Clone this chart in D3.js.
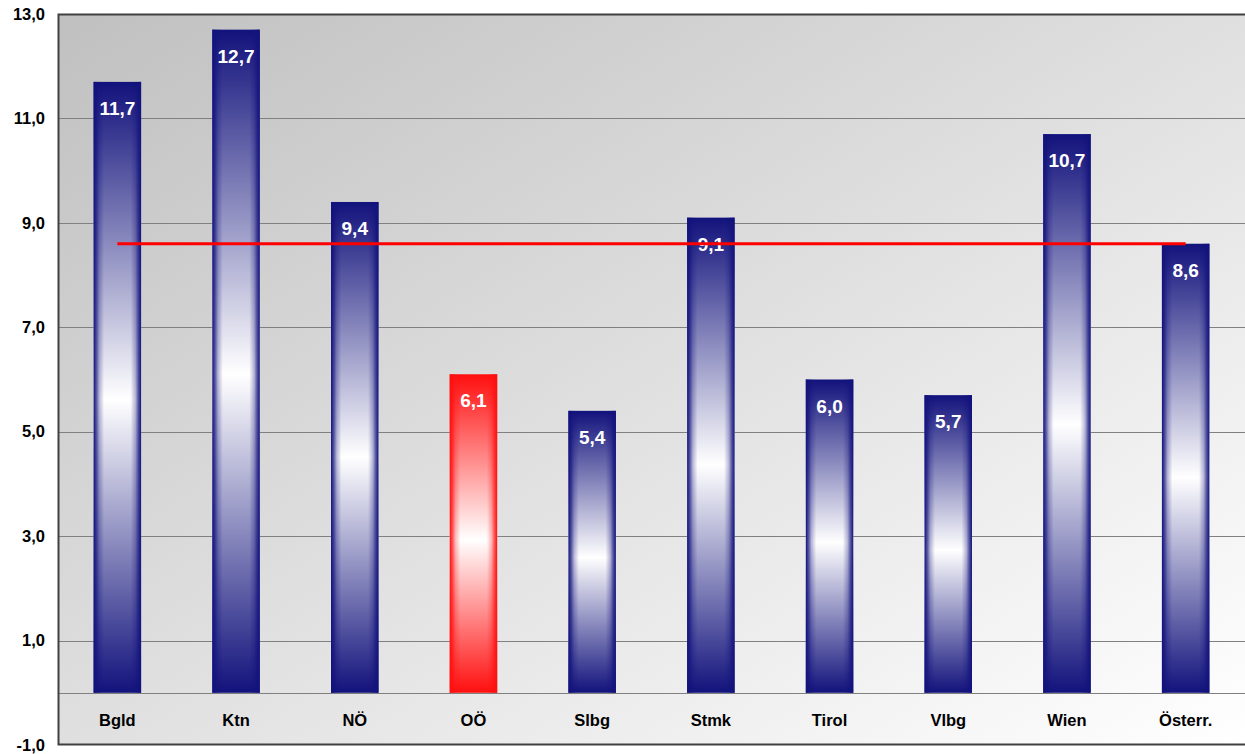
<!DOCTYPE html>
<html>
<head>
<meta charset="utf-8">
<script src="https://cdn.jsdelivr.net/npm/d3@7"></script>
<style>
  body { margin: 0; background: #fff; }
  svg text { font-family: "Liberation Sans", Arial, sans-serif; font-weight: bold; }
</style>
</head>
<body>
<div id="chart"></div>
<script>
// Data.
var categories = ['Bgld', 'Ktn', 'NÖ', 'OÖ', 'Slbg', 'Stmk', 'Tirol', 'Vlbg', 'Wien', 'Österr.'];
var values = [11.7, 12.7, 9.4, 6.1, 5.4, 9.1, 6.0, 5.7, 10.7, 8.6];
var lineValues = [8.6, 8.6, 8.6, 8.6, 8.6, 8.6, 8.6, 8.6, 8.6, 8.6];
var highlight = ['OÖ'];
var yTicks = [-1, 1, 3, 5, 7, 9, 11, 13];

var W = 1245, H = 754;
var margin = { top: 14, right: 0, bottom: 9, left: 58 };
var width = W - margin.left - margin.right;
var height = H - margin.top - margin.bottom;

var fmt = function(d) { return d3.format('.1f')(d).replace('.', ',').replace('\u2212', '-'); };

var svg = d3.select('#chart').append('svg')
  .attr('width', W)
  .attr('height', H);

var defs = svg.append('defs');

// Plot background, grey top-left to white bottom-right.
var bg = defs.append('linearGradient').attr('id', 'bg')
  .attr('x1', '0%').attr('y1', '0%').attr('x2', '100%').attr('y2', '100%');
bg.append('stop').attr('offset', '0%').attr('stop-color', '#c0c0c0');
bg.append('stop').attr('offset', '100%').attr('stop-color', '#ffffff');

// Bar fills: vertical dark-white-dark plus darker side edges.
function barGradient(id, col) {
  var v = defs.append('linearGradient').attr('id', id + 'V')
    .attr('x1', 0).attr('y1', 0).attr('x2', 0).attr('y2', 1);
  v.append('stop').attr('offset', '0%').attr('stop-color', col);
  v.append('stop').attr('offset', '52%').attr('stop-color', '#ffffff');
  v.append('stop').attr('offset', '100%').attr('stop-color', col);

  var h = defs.append('linearGradient').attr('id', id + 'H')
    .attr('x1', 0).attr('y1', 0).attr('x2', 1).attr('y2', 0);
  h.append('stop').attr('offset', '0%').attr('stop-color', col).attr('stop-opacity', 1);
  h.append('stop').attr('offset', '6%').attr('stop-color', col).attr('stop-opacity', 0.7);
  h.append('stop').attr('offset', '12%').attr('stop-color', col).attr('stop-opacity', 0.3);
  h.append('stop').attr('offset', '22%').attr('stop-color', col).attr('stop-opacity', 0);
  h.append('stop').attr('offset', '78%').attr('stop-color', col).attr('stop-opacity', 0);
  h.append('stop').attr('offset', '88%').attr('stop-color', col).attr('stop-opacity', 0.3);
  h.append('stop').attr('offset', '94%').attr('stop-color', col).attr('stop-opacity', 0.7);
  h.append('stop').attr('offset', '100%').attr('stop-color', col).attr('stop-opacity', 1);
}
barGradient('navy', '#12127c');
barGradient('red', '#ff0f0f');

var g = svg.append('g')
  .attr('transform', 'translate(' + margin.left + ',' + margin.top + ')');

var x = d3.scaleBand().domain(categories).range([0, width]).paddingInner(0.6).paddingOuter(0.3);
var xc = d3.scalePoint().domain(categories).range([0, width]).padding(0.5);
var y = d3.scaleLinear().domain([-1, 13]).range([height, 0]);

g.append('rect')
  .attr('width', width)
  .attr('height', height)
  .attr('fill', 'url(#bg)');

// Grid lines.
g.append('g').attr('class', 'grid')
  .selectAll('line')
  .data(yTicks.filter(function(d) { return d > -1 && d < 13; }).concat([0]))
  .enter().append('line')
  .attr('x1', 0).attr('x2', width)
  .attr('y1', function(d) { return Math.round(y(d)) + 0.5; })
  .attr('y2', function(d) { return Math.round(y(d)) + 0.5; })
  .attr('stroke', '#808080')
  .attr('stroke-width', 1);

// Bars.
var bars = g.append('g').selectAll('g.bar')
  .data(categories.map(function(c, i) { return { c: c, v: values[i] }; }))
  .enter().append('g').attr('class', 'bar');

bars.append('rect')
  .attr('x', function(d) { return x(d.c); })
  .attr('y', function(d) { return y(d.v); })
  .attr('width', x.bandwidth())
  .attr('height', function(d) { return y(0) - y(d.v); })
  .attr('fill', function(d) { return highlight.includes(d.c) ? 'url(#redV)' : 'url(#navyV)'; });

bars.append('rect')
  .attr('x', function(d) { return x(d.c); })
  .attr('y', function(d) { return y(d.v); })
  .attr('width', x.bandwidth())
  .attr('height', function(d) { return y(0) - y(d.v); })
  .attr('fill', function(d) { return highlight.includes(d.c) ? 'url(#redH)' : 'url(#navyH)'; });

// Average line.
var line = d3.line()
  .x(function(d, i) { return xc(categories[i]); })
  .y(function(d) { return y(d); });

g.append('path')
  .datum(lineValues)
  .attr('d', line)
  .attr('fill', 'none')
  .attr('stroke', '#ff0000')
  .attr('stroke-width', 3);

// Value labels.
bars.append('text')
  .attr('x', function(d) { return xc(d.c); })
  .attr('y', function(d) { return y(d.v) + 33; })
  .attr('text-anchor', 'middle')
  .attr('fill', '#ffffff')
  .style('font-size', '19px')
  .text(function(d) { return fmt(d.v); });

// Axes.
var yAxis = d3.axisLeft(y).tickValues(yTicks).tickSize(0).tickPadding(13)
  .tickFormat(fmt);

var yg = g.append('g').call(yAxis);
yg.select('.domain').remove();
yg.selectAll('text').style('font-size', '16.5px').attr('fill', '#000');

g.selectAll('text.cat')
  .data(categories)
  .enter().append('text')
  .attr('class', 'cat')
  .attr('x', function(d) { return xc(d); })
  .attr('y', y(-0.5) + 7)
  .attr('text-anchor', 'middle')
  .attr('fill', '#000')
  .style('font-size', '16.5px')
  .text(function(d) { return d; });

// Frame: dark top, left and bottom edges.
g.append('path')
  .attr('d', 'M' + width + ',0.5H0.5V' + (height - 0.5) + 'H' + width)
  .attr('fill', 'none')
  .attr('stroke', '#404040')
  .attr('stroke-width', 2);
</script>
</body>
</html>
